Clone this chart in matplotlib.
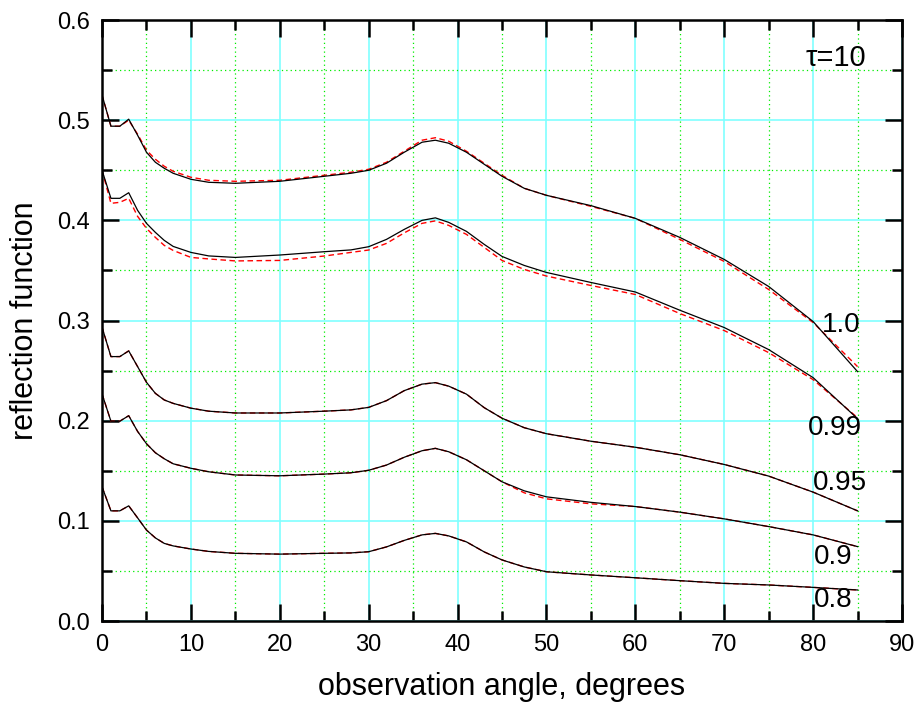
import matplotlib
matplotlib.use("Agg")
import matplotlib.pyplot as plt
from matplotlib.ticker import MultipleLocator, FormatStrFormatter

plt.rcParams["font.family"] = ["Liberation Sans", "DejaVu Sans"]

# observation angles (degrees)
angle = [0, 1, 2, 3, 4, 5, 6, 7, 8, 10, 12, 15, 20, 25, 28, 30, 32, 34, 36,
         37.5, 39, 41, 43, 45, 47.5, 50, 55, 60, 65, 70, 75, 80, 85]

# single scattering albedo labels
albedo_labels = ["1.0", "0.99", "0.95", "0.9", "0.8"]

# solid black curves
r_100 = [0.525, 0.494, 0.494, 0.501, 0.485, 0.468, 0.458, 0.452, 0.447, 0.441,
         0.438, 0.437, 0.439, 0.444, 0.447, 0.450, 0.457, 0.468, 0.478, 0.480,
         0.477, 0.468, 0.456, 0.444, 0.432, 0.425, 0.4147, 0.402, 0.383,
         0.361, 0.334, 0.299, 0.249]
r_099 = [0.450, 0.422, 0.422, 0.4276, 0.410, 0.397, 0.388, 0.380, 0.374, 0.368,
         0.3645, 0.363, 0.3654, 0.3687, 0.3705, 0.3737, 0.381, 0.391, 0.400,
         0.4025, 0.398, 0.389, 0.376, 0.364, 0.355, 0.348, 0.338, 0.3285,
         0.3103, 0.293, 0.271, 0.243, 0.202]
r_095 = [0.2933, 0.264, 0.264, 0.2697, 0.254, 0.2383, 0.2273, 0.2207, 0.2173,
         0.2125, 0.2095, 0.2077, 0.2077, 0.2095, 0.2108, 0.2133, 0.220, 0.230,
         0.2365, 0.238, 0.2345, 0.2265, 0.213, 0.2025, 0.193, 0.187, 0.1795,
         0.1735, 0.166, 0.1563, 0.1447, 0.1287, 0.110]
r_090 = [0.2267, 0.1995, 0.1995, 0.205, 0.1893, 0.177, 0.168, 0.162, 0.157,
         0.1525, 0.149, 0.1458, 0.145, 0.1467, 0.148, 0.1505, 0.1557, 0.1635,
         0.170, 0.1724, 0.169, 0.161, 0.150, 0.139, 0.130, 0.124, 0.1185,
         0.1143, 0.1087, 0.102, 0.0943, 0.086, 0.0743]
r_080 = [0.134, 0.110, 0.110, 0.115, 0.103, 0.0908, 0.083, 0.0775, 0.075,
         0.0719, 0.0695, 0.0676, 0.0668, 0.0676, 0.068, 0.0692, 0.074, 0.0805,
         0.086, 0.0875, 0.085, 0.079, 0.069, 0.061, 0.054, 0.0492, 0.046,
         0.0432, 0.0403, 0.0376, 0.036, 0.0336, 0.031]

# red dashed curves (approximation)
a_100 = [0.525, 0.494, 0.494, 0.500, 0.486, 0.470, 0.461, 0.454, 0.449, 0.443,
         0.440, 0.439, 0.440, 0.445, 0.448, 0.451, 0.458, 0.469, 0.480, 0.4825,
         0.479, 0.469, 0.457, 0.445, 0.432, 0.425, 0.414, 0.402, 0.381, 0.359,
         0.331, 0.298, 0.254]
a_099 = [0.450, 0.417, 0.418, 0.422, 0.404, 0.392, 0.383, 0.375, 0.370, 0.363,
         0.3615, 0.3595, 0.360, 0.3644, 0.368, 0.3704, 0.377, 0.3875, 0.397,
         0.3995, 0.395, 0.386, 0.373, 0.360, 0.351, 0.3444, 0.335, 0.326,
         0.307, 0.290, 0.268, 0.241, 0.203]
a_095 = [0.2933, 0.264, 0.264, 0.2697, 0.254, 0.2383, 0.2273, 0.2207, 0.2173,
         0.2125, 0.2095, 0.2077, 0.2077, 0.2095, 0.2108, 0.2133, 0.220, 0.230,
         0.2365, 0.238, 0.2345, 0.2265, 0.213, 0.2025, 0.193, 0.187, 0.1795,
         0.1735, 0.166, 0.1563, 0.1447, 0.1287, 0.110]
a_090 = [0.2267, 0.1995, 0.1995, 0.205, 0.1893, 0.177, 0.168, 0.162, 0.157,
         0.1525, 0.149, 0.1458, 0.145, 0.1467, 0.148, 0.1505, 0.1557, 0.1635,
         0.170, 0.1724, 0.169, 0.161, 0.150, 0.139, 0.128, 0.122, 0.117,
         0.1143, 0.1087, 0.102, 0.0943, 0.086, 0.0743]
a_080 = [0.134, 0.110, 0.110, 0.115, 0.103, 0.0908, 0.083, 0.0775, 0.075,
         0.0719, 0.0695, 0.0676, 0.0668, 0.0676, 0.068, 0.0692, 0.074, 0.0805,
         0.086, 0.0875, 0.085, 0.079, 0.069, 0.061, 0.054, 0.0492, 0.046,
         0.0432, 0.0403, 0.0376, 0.036, 0.0336, 0.031]

solid = [r_100, r_099, r_095, r_090, r_080]
dashed = [a_100, a_099, a_095, a_090, a_080]
# where each label sits (data coords)
label_pos = [(83.2, 0.296), (82.5, 0.193), (83.0, 0.138), (82.3, 0.064), (82.3, 0.021)]


def main():
    fig = plt.figure(figsize=(9.16, 7.05), dpi=100)
    ax = fig.add_axes([0.1114, 0.1191, 0.8733, 0.8525])

    for ya, yr in zip(dashed, solid):
        ax.plot(angle, ya, color="red", linestyle=(0, (4, 2.5)), linewidth=1.0)
        ax.plot(angle, yr, color="black", linewidth=0.9)

    for lab, (lx, ly) in zip(albedo_labels, label_pos):
        ax.text(lx, ly, lab, fontsize=20, ha="center", va="center")
    ax.text(82.6, 0.5625, "\u03c4=10", fontsize=21, ha="center", va="center")

    ax.set_xlim(0, 90)
    ax.set_ylim(0, 0.6)
    ax.xaxis.set_major_locator(MultipleLocator(10))
    ax.xaxis.set_minor_locator(MultipleLocator(5))
    ax.yaxis.set_major_locator(MultipleLocator(0.1))
    ax.yaxis.set_minor_locator(MultipleLocator(0.05))
    ax.yaxis.set_major_formatter(FormatStrFormatter("%.1f"))

    ax.grid(True, which="major", color="#80ffff", linewidth=1.2, linestyle="-")
    ax.grid(True, which="minor", color="#00ee00", linewidth=0.9, linestyle=(0, (1, 2.5)))
    ax.set_axisbelow(True)

    ax.tick_params(which="both", direction="in", top=True, right=True, width=1.8,
                   labelsize=17, pad=9)
    ax.tick_params(which="major", length=12)
    ax.tick_params(which="minor", length=7)
    for sp in ax.spines.values():
        sp.set_linewidth(1.8)

    ax.set_xlabel("observation angle, degrees", fontsize=22, labelpad=12)
    ax.set_ylabel("reflection function", fontsize=22, labelpad=12)

    fig.savefig("out.png", dpi=100)
    plt.close(fig)


if __name__ == "__main__":
    main()
